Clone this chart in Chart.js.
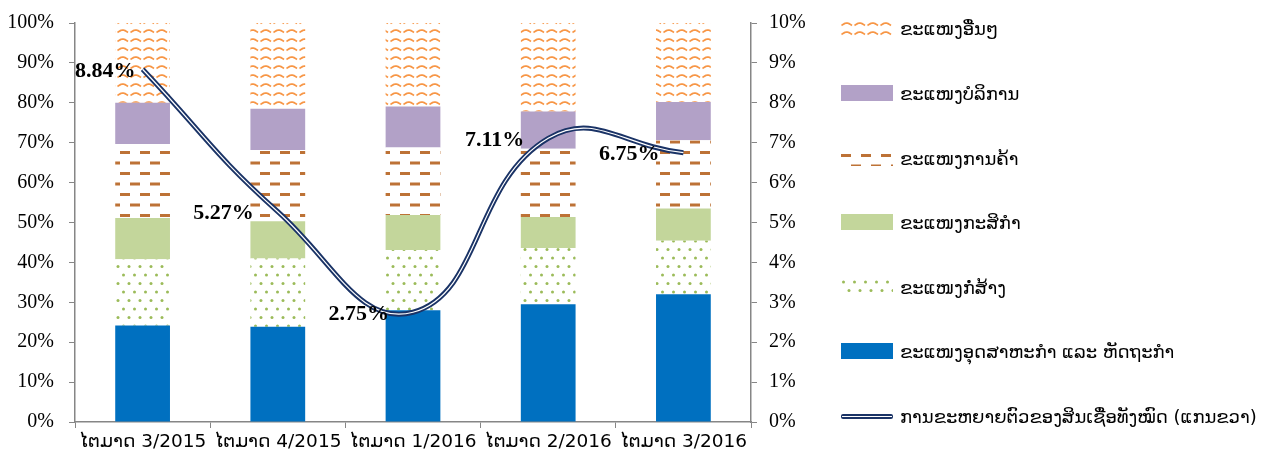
<!DOCTYPE html>
<html>
<head>
    <title>Loan structure by sector</title>
    <script src="https://cdn.jsdelivr.net/npm/chart.js"></script>
    <style>
        body {margin: 0; background: #fff;}
        #wrap {position: relative; width: 1277px; height: 465px;}
        #legend {position: absolute; left: 841px; top: 0; font: 18px "DejaVu Sans", sans-serif; color: #000;}
        .item {position: absolute; left: 0; height: 20px; white-space: nowrap; display: flex; align-items: center;}
        .sw {width: 52px; height: 16px; margin-right: 7px; flex: none;}
        .ln {width: 52px; height: 5px; margin-right: 7px; flex: none; background: #1a3366; border-radius: 2px; position: relative;}
        .ln:after {content: ""; position: absolute; left: 1px; right: 1px; top: 2px; height: 1px; background: #fff;}
    </style>
</head>
<body>
<div id="wrap">
    <canvas id="myChart" width="1277" height="465"></canvas>
    <div id="legend"></div>
</div>
<script>
    // quarters
    var quarters = ['ໄຕມາດ 3/2015', 'ໄຕມາດ 4/2015', 'ໄຕມາດ 1/2016', 'ໄຕມາດ 2/2016', 'ໄຕມາດ 3/2016'];

    // share of loans by sector (%), bottom to top
    var industry     = [24.2, 23.9, 28.0, 29.5, 32.0];
    var construction = [16.6, 17.1, 15.1, 14.1, 13.4];
    var agriculture  = [10.3,  9.3,  8.8,  7.8,  8.1];
    var trade        = [18.6, 17.9, 16.9, 17.1, 17.1];
    var services     = [10.3, 10.3, 10.3,  9.3,  9.6];
    var others       = [20.0, 21.5, 20.9, 22.2, 19.8];

    // total credit growth (%), right axis
    var growth = [8.84, 5.27, 2.75, 7.11, 6.75];

    var leftTicks = [0, 10, 20, 30, 40, 50, 60, 70, 80, 90, 100];
    var rightTicks = [0, 1, 2, 3, 4, 5, 6, 7, 8, 9, 10];

    var names = {
        industry: 'ຂະແໜງອຸດສາຫະກຳ ແລະ ຫັດຖະກຳ',
        construction: 'ຂະແໜງກໍ່ສ້າງ',
        agriculture: 'ຂະແໜງກະສິກຳ',
        trade: 'ຂະແໜງການຄ້າ',
        services: 'ຂະແໜງບໍລິການ',
        others: 'ຂະແໜງອື່ນໆ',
        growth: 'ການຂະຫຍາຍຕົວຂອງສິນເຊື່ອທັງໝົດ (ແກນຂວາ)'
    };

    function tile(w, h, draw) {
        var c = document.createElement('canvas');
        c.width = w; c.height = h;
        var g = c.getContext('2d');
        g.fillStyle = '#fff';
        g.fillRect(0, 0, w, h);
        draw(g);
        return c;
    }

    // broken orange waves
    var waveTile = tile(13, 9, function(g) {
        g.strokeStyle = '#f79646';
        g.lineWidth = 1.7;
        g.beginPath();
        for (var x = 0.5; x <= 11; x += 0.5) {
            var y = 5.5 - 2.4 * Math.sin(Math.PI * (x - 0.5) / 10.5);
            if (x === 0.5) g.moveTo(x, y); else g.lineTo(x, y);
        }
        g.stroke();
    });
    var dashTile = tile(20, 21, function(g) {
        g.fillStyle = '#bd7236';
        g.fillRect(0, 4, 10, 3);
        g.fillRect(10, 14.5, 10, 3);
    });
    var dotTile = tile(11, 17, function(g) {
        g.fillStyle = '#9bbb59';
        g.beginPath(); g.arc(2.5, 3, 1.5, 0, 2 * Math.PI); g.fill();
        g.beginPath(); g.arc(8, 11.5, 1.5, 0, 2 * Math.PI); g.fill();
    });

    var ctx = document.getElementById('myChart').getContext('2d');
    var wavePat = ctx.createPattern(waveTile, 'repeat');
    var dashPat = ctx.createPattern(dashTile, 'repeat');
    var dotPat = ctx.createPattern(dotTile, 'repeat');

    function bar(key, data, fill) {
        return {type: 'bar', label: names[key], data: data, backgroundColor: fill,
                borderWidth: 0, yAxisID: 'y', order: 2};
    }

    var barSets = [
        bar('industry', industry, '#0070c0'),
        bar('construction', construction, dotPat),
        bar('agriculture', agriculture, '#c3d69b'),
        bar('trade', trade, dashPat),
        bar('services', services, '#b2a1c7'),
        bar('others', others, wavePat)
    ];
    var swatchImg = [null, dotTile, null, dashTile, null, waveTile];
    var swatchCol = ['#0070c0', null, '#c3d69b', null, '#b2a1c7', null];

    var lineOuter = {type: 'line', label: names.growth, data: growth, yAxisID: 'y1',
        borderColor: '#1a3366', borderWidth: 5, tension: 0.45, pointRadius: 0, fill: false, order: 1};
    var lineInner = {type: 'line', label: '', data: growth, yAxisID: 'y1',
        borderColor: '#ffffff', borderWidth: 1.2, tension: 0.45, pointRadius: 0, fill: false, order: 0};

    var pointLabels = {
        id: 'pointLabels',
        afterDatasetsDraw: function(chart) {
            var meta = chart.getDatasetMeta(6);
            var area = chart.chartArea;
            var c = chart.ctx;
            c.save();
            c.font = 'bold 22px "Liberation Serif", serif';
            c.fillStyle = '#000';
            c.textAlign = 'left';
            c.textBaseline = 'middle';
            meta.data.forEach(function(pt, i) {
                var txt = growth[i].toFixed(2) + '%';
                var w = c.measureText(txt).width;
                var x = Math.max(area.left, pt.x - 24 - w);
                c.fillText(txt, x, pt.y + 2);
            });
            c.restore();
        }
    };

    var axisGrey = '#868686';
    var tickFont = {family: '"Liberation Serif", serif', size: 20};

    // keep the tick label gap from pushing the plot area down
    function fixY(w) {
        return function(s) {
            s.width = w;
            s.paddingTop = 12;
            s.paddingBottom = 12;
        };
    }

    new Chart(ctx, {
        data: {
            labels: quarters,
            datasets: barSets.concat([lineOuter, lineInner])
        },
        plugins: [pointLabels],
        options: {
            responsive: false,
            animation: false,
            layout: {padding: {left: 0, right: 466, top: 23, bottom: 0}},
            plugins: {legend: {display: false}, tooltip: {enabled: false}},
            datasets: {bar: {categoryPercentage: 1, barPercentage: 0.405}},
            scales: {
                x: {
                    stacked: true,
                    grid: {drawOnChartArea: false, color: axisGrey, tickLength: 6, offset: true},
                    border: {color: axisGrey, width: 1.5},
                    ticks: {color: '#000', padding: 3, font: {family: '"DejaVu Sans", sans-serif', size: 18.5}},
                    afterFit: function(s) { s.height = 43; }
                },
                y: {
                    stacked: true,
                    min: 0, max: 100,
                    afterBuildTicks: function(s) { s.ticks = leftTicks.map(function(v) { return {value: v}; }); },
                    grid: {drawOnChartArea: false, color: axisGrey, tickLength: 6},
                    border: {color: axisGrey, width: 1.5},
                    ticks: {color: '#000', padding: 15, font: tickFont,
                            callback: function(v) { return v + '%'; }},
                    afterFit: fixY(75)
                },
                y1: {
                    position: 'right',
                    min: 0, max: 10,
                    afterBuildTicks: function(s) { s.ticks = rightTicks.map(function(v) { return {value: v}; }); },
                    grid: {drawOnChartArea: false, color: axisGrey, tickLength: 6},
                    border: {color: axisGrey, width: 1.5},
                    ticks: {color: '#000', padding: 12, font: tickFont,
                            callback: function(v) { return v + '%'; }},
                    afterFit: fixY(60)
                }
            }
        }
    });

    // legend on the right, top to bottom: others ... industry, then the line
    var legend = document.getElementById('legend');
    var centers = [28, 93, 158, 222, 287, 351, 416];
    var order = [5, 4, 3, 2, 1, 0];
    order.forEach(function(idx, row) {
        var div = document.createElement('div');
        div.className = 'item';
        div.style.top = (centers[row] - 10) + 'px';
        var sw = document.createElement('span');
        sw.className = 'sw';
        if (swatchImg[idx]) sw.style.background = 'url(' + swatchImg[idx].toDataURL() + ')';
        else sw.style.background = swatchCol[idx];
        div.appendChild(sw);
        div.appendChild(document.createTextNode(barSets[idx].label));
        legend.appendChild(div);
    });
    var last = document.createElement('div');
    last.className = 'item';
    last.style.top = (centers[6] - 10) + 'px';
    var ln = document.createElement('span');
    ln.className = 'ln';
    last.appendChild(ln);
    last.appendChild(document.createTextNode(names.growth));
    legend.appendChild(last);
</script>
</body>
</html>
